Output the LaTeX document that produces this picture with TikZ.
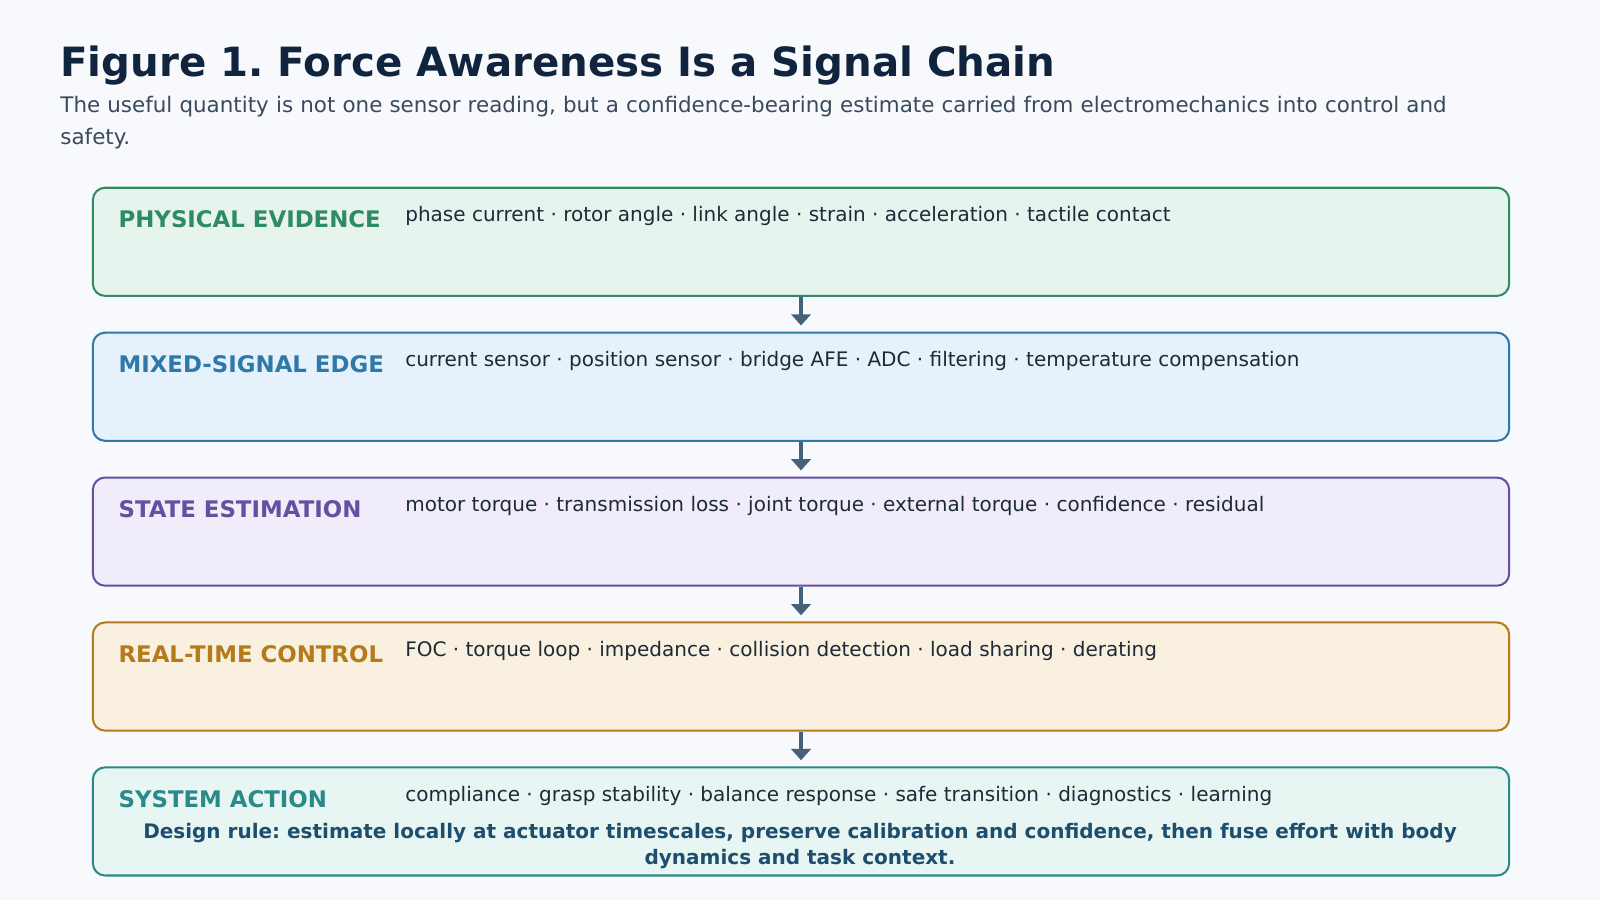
\documentclass[tikz,border=0pt]{standalone}
\usepackage{fontspec}
\setmainfont{DejaVu Sans}
\usetikzlibrary{positioning,arrows.meta}
\frenchspacing
\definecolor{bgc}{HTML}{F7F9FC}
\definecolor{titc}{HTML}{10243E}
\definecolor{subc}{HTML}{3A4A5C}
\definecolor{txtc}{HTML}{1E2A38}
\definecolor{arrc}{HTML}{456179}
\definecolor{peD}{HTML}{2E8B66}\definecolor{peL}{HTML}{E7F4EE}
\definecolor{msD}{HTML}{2F78AA}\definecolor{msL}{HTML}{E6F2FB}
\definecolor{seD}{HTML}{664FA0}\definecolor{seL}{HTML}{F0ECFA}
\definecolor{rtD}{HTML}{B57A1A}\definecolor{rtL}{HTML}{F9F0DF}
\definecolor{saD}{HTML}{2A8A8A}\definecolor{saL}{HTML}{E7F5F3}
\definecolor{ruleC}{HTML}{1D4E6E}
\begin{document}
\begin{tikzpicture}[x=1pt,y=-1pt,
stage/.style = {draw=#1,line width=2pt,rounded corners=12pt,minimum width=1388pt,minimum height=106pt,anchor=north west,inner sep=0pt},
tag/.style = {anchor=west,font=\fontsize{22.4}{26}\selectfont\bfseries,inner sep=0pt},
items/.style = {anchor=west,font=\fontsize{19.6}{23}\selectfont,text=txtc,inner sep=0pt},
flow/.style = {draw=arrc,line width=3.5pt,-{Triangle[length=11pt,width=19pt]},shorten >=6pt}]

\fill[bgc] (0,0) rectangle (1568,882);
\useasboundingbox (0,0) rectangle (1568,882);

\node[anchor=west,inner sep=0pt,text=titc,font=\fontsize{39.5}{46}\selectfont\bfseries] (title) at (59,64) {Figure 1. Force Awareness Is a Signal Chain};
\node[anchor=north west,inner sep=0pt,text=subc,text width=1400pt,align=left,font=\fontsize{21}{31}\selectfont] (sub) at (59,94) {The useful quantity is not one sensor reading, but a confidence-bearing estimate carried from electromechanics into control and safety.};

\node[stage=peD,fill=peL] (pe) at (90,183) {};
\node[stage=msD,fill=msL] (ms) at (90,325) {};
\node[stage=seD,fill=seL] (se) at (90,467) {};
\node[stage=rtD,fill=rtL] (rt) at (90,609) {};
\node[stage=saD,fill=saL] (sa) at (90,751) {};

\node[tag,text=peD] (peT) at (116,215) {PHYSICAL EVIDENCE};
\node[tag,text=msD] (msT) at (116,357) {MIXED-SIGNAL EDGE};
\node[tag,text=seD] (seT) at (116,499) {STATE ESTIMATION};
\node[tag,text=rtD] (rtT) at (116,641) {REAL-TIME CONTROL};
\node[tag,text=saD] (saT) at (116,783) {SYSTEM ACTION};

\node[items] (peI) at (397,212) {phase current · rotor angle · link angle · strain · acceleration · tactile contact};
\node[items] (msI) at (397,354) {current sensor · position sensor · bridge AFE · ADC · filtering · temperature compensation};
\node[items] (seI) at (397,496) {motor torque · transmission loss · joint torque · external torque · confidence · residual};
\node[items] (rtI) at (397,638) {FOC · torque loop · impedance · collision detection · load sharing · derating};
\node[items] (saI) at (397,780) {compliance · grasp stability · balance response · safe transition · diagnostics · learning};

\node[text=ruleC,align=center,inner sep=0pt,font=\fontsize{19.6}{26}\selectfont\bfseries] (rule) at (784,829) {Design rule: estimate locally at actuator timescales, preserve calibration and confidence, then fuse effort with body\\dynamics and task context.};

\draw[flow] (pe.south) -- (ms.north);
\draw[flow] (ms.south) -- (se.north);
\draw[flow] (se.south) -- (rt.north);
\draw[flow] (rt.south) -- (sa.north);
\end{tikzpicture}
\end{document}
